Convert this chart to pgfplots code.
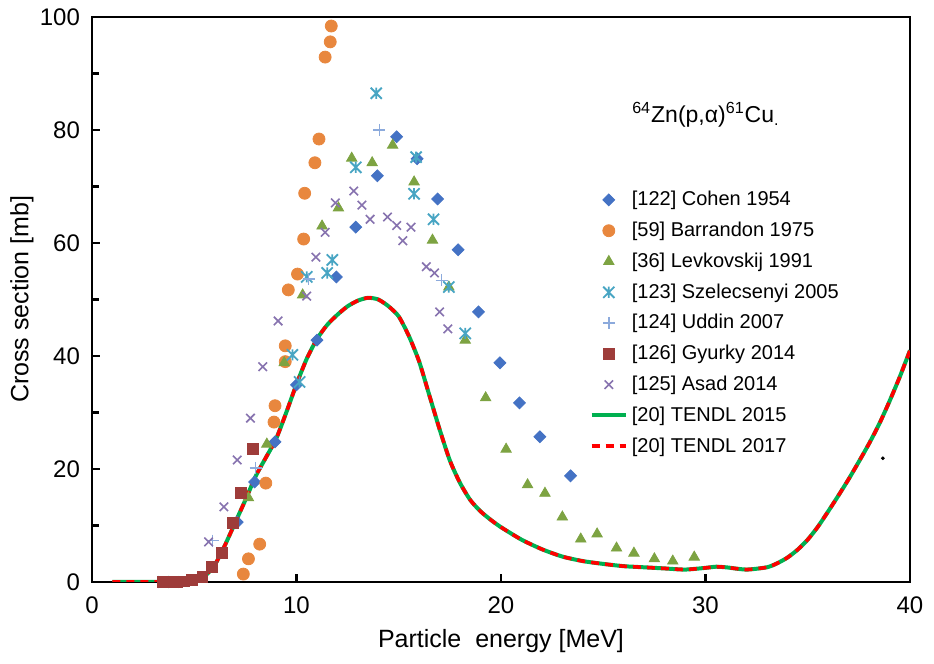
\documentclass[border=0pt]{standalone}
\usepackage{fontspec}
\setmainfont{Liberation Sans}
\usepackage{pgfplots}
\pgfplotsset{compat=1.18}
\definecolor{cohen}{RGB}{68,114,196}
\definecolor{barr}{RGB}{232,135,62}
\definecolor{levk}{RGB}{125,163,66}
\definecolor{szel}{RGB}{72,165,195}
\definecolor{uddin}{RGB}{140,170,220}
\definecolor{gyur}{RGB}{158,60,58}
\definecolor{asad}{RGB}{135,115,175}
\definecolor{tgreen}{RGB}{0,176,80}
\pgfdeclareplotmark{xstar}{%
  \pgfpathmoveto{\pgfqpoint{-\pgfplotmarksize}{-\pgfplotmarksize}}%
  \pgfpathlineto{\pgfqpoint{\pgfplotmarksize}{\pgfplotmarksize}}%
  \pgfpathmoveto{\pgfqpoint{-\pgfplotmarksize}{\pgfplotmarksize}}%
  \pgfpathlineto{\pgfqpoint{\pgfplotmarksize}{-\pgfplotmarksize}}%
  \pgfpathmoveto{\pgfqpoint{0pt}{-\pgfplotmarksize}}%
  \pgfpathlineto{\pgfqpoint{0pt}{\pgfplotmarksize}}%
  \pgfusepathqstroke}
\newcommand{\lf}{\fontsize{10}{12}\selectfont}
\begin{document}
\begin{tikzpicture}
\useasboundingbox (-46pt,-41pt) rectangle (421pt,291pt);
\begin{axis}[
  at={(0,0)}, anchor=south west,
  scale only axis, width=409pt, height=282.5pt,
  xmin=0, xmax=40, ymin=0, ymax=100,
  xtick={0,10,20,30,40}, ytick={0,20,...,100}, minor ytick={10,30,50,70,90},
  tick pos=left, tick align=inside,
  major tick length=3.8pt, minor tick length=3.5pt,
  axis line style={line width=1.1pt},
  every tick/.style={black, line width=1.1pt},
  every minor tick/.style={black, line width=1.1pt},
  tick label style={font=\fontsize{12}{14}\selectfont},
  xticklabel style={yshift=-4pt},
  yticklabel style={xshift=-2.5pt},
  /pgf/number format/assume math mode=true,
  xlabel={\fontsize{12.5}{15}\selectfont Particle\ \ energy [MeV]},
  ylabel={\fontsize{12.5}{15}\selectfont Cross section [mb]},
  every axis x label/.style={at={(axis description cs:0.5,0)}, anchor=center, yshift=-29.5pt},
  every axis y label/.style={at={(axis description cs:-0.0856,0.5)}, anchor=center, rotate=90},
  legend style={draw=none, fill=none, inner sep=0pt,
    at={(0.608,0.6995)}, anchor=north west, row sep=2.65pt},
  legend cell align=left,
]
% Cohen 1954
\addplot[only marks, mark=square*, mark size=2.1pt, color=cohen, every mark/.append style={rotate=45}]
coordinates {(7.1,10.6)(7.95,17.7)(8.95,24.8)(10.0,34.9)(11.0,42.8)(11.95,54.0)(12.9,62.8)(13.95,71.9)(14.9,78.8)(15.9,74.9)(16.9,67.8)(17.9,58.8)(18.9,47.8)(19.95,38.8)(20.9,31.7)(21.9,25.7)(23.4,18.8)};
\addlegendentry{\lf [122] Cohen 1954}
% Barrandon 1975
\addplot[only marks, mark=*, mark size=3pt, color=barr]
coordinates {(7.4,1.4)(7.65,4.1)(8.2,6.7)(8.5,17.5)(8.9,28.3)(8.95,31.2)(9.45,39)(9.45,41.8)(9.6,51.7)(10.05,54.5)(10.35,60.7)(10.4,68.8)(10.9,74.2)(11.1,78.4)(11.4,92.9)(11.65,95.6)(11.7,98.4)};
\addlegendentry{\lf [59] Barrandon 1975}
% Levkovskij 1991
\addplot[only marks, mark=triangle*, mark size=3pt, color=levk]
coordinates {(7.65,14.9)(8.55,24.4)(9.4,38.8)(10.3,50.8)(11.25,63.0)(12.05,66.2)(12.7,75.0)(13.7,74.2)(14.7,77.3)(15.75,70.8)(16.65,60.5)(17.45,52.2)(18.25,42.8)(19.25,32.6)(20.25,23.5)(21.3,17.2)(22.15,15.7)(23.0,11.5)(23.9,7.6)(24.7,8.5)(25.65,6.0)(26.5,5.1)(27.5,4.1)(28.4,3.7)(29.45,4.4)};
\addlegendentry{\lf [36] Levkovskij 1991}
% Szelecsenyi 2005
\addplot[only marks, mark=xstar, mark size=2.8pt, color=szel, line width=0.9pt]
coordinates {(3.5,0)(4.0,0)(9.8,40.2)(10.15,35.4)(10.5,54)(11.5,54.7)(11.75,57)(12.9,73.4)(13.9,86.5)(15.75,68.7)(15.85,75.2)(16.7,64.2)(17.45,52.2)(18.25,44)};
\addlegendentry{\lf [123] Szelecsenyi 2005}
% Uddin 2007
\addplot[only marks, mark=+, mark size=3pt, color=uddin, line width=0.7pt]
coordinates {(5.9,7.3)(8.0,20.2)(10.6,53.6)(14.05,80)(17.1,53.4)};
\addlegendentry{\lf [124] Uddin 2007}
% Gyurky 2014
\addplot[only marks, mark=square*, mark size=2.7pt, color=gyur]
coordinates {(3.45,0)(3.8,0)(4.15,0)(4.5,0.1)(4.9,0.3)(5.4,0.9)(5.85,2.7)(6.35,5.1)(6.9,10.4)(7.27,15.8)(7.85,23.5)};
\addlegendentry{\lf [126] Gyurky 2014}
% Asad 2014
\addplot[only marks, mark=x, mark size=3pt, color=asad, line width=0.8pt]
coordinates {(5.7,7.1)(6.45,13.3)(7.1,21.6)(7.75,29)(8.35,38.1)(9.1,46.2)(10.5,50.6)(10.95,57.5)(11.4,61.9)(11.9,67.1)(12.8,69.2)(13.2,66.7)(13.6,64.2)(14.45,64.6)(14.9,63.1)(15.2,60.4)(15.6,62.8)(16.35,55.8)(16.75,54.7)(17.0,47.8)(17.4,44.8)};
\addlegendentry{\lf [125] Asad 2014}
% TENDL 2015
\addplot[smooth, tension=0.4, color=tgreen, line width=2pt, no marks]
coordinates {(1,0)(2,0)(3,0)(4,0)(4.5,0.05)(5,0.2)(5.5,1)(6,3)(6.5,6.5)(7,10.5)(7.5,14.5)(8,18.7)(8.5,22)(9,25.3)(9.5,30)(10,35)(10.5,39.5)(11,43)(11.5,45.5)(12,47.3)(12.5,48.8)(13,49.8)(13.5,50.3)(14,50)(14.5,48.8)(15,47)(15.5,43.5)(16,39)(16.5,33)(17,27)(17.5,21.5)(18,17.5)(18.5,14.5)(19,12.5)(19.5,11)(20,9.7)(21,7.5)(22,5.8)(23,4.5)(24,3.7)(25,3.2)(26,2.8)(27,2.6)(28,2.4)(29,2.2)(30,2.5)(30.5,2.7)(31,2.6)(32,2.2)(33,2.6)(33.5,3.3)(34,4.3)(34.5,5.7)(35,7.5)(35.5,9.8)(36,12.5)(36.5,15.3)(37,18.2)(37.5,21.3)(38,24.5)(38.5,28)(39,32)(39.5,36.3)(40,41)};
\addlegendentry{\lf [20] TENDL 2015}
% TENDL 2017
\addplot[smooth, tension=0.4, color=red, line width=1.8pt, dash pattern=on 4pt off 3pt, no marks]
coordinates {(1,0)(2,0)(3,0)(4,0)(4.5,0.05)(5,0.2)(5.5,1)(6,3)(6.5,6.5)(7,10.5)(7.5,14.5)(8,18.7)(8.5,22)(9,25.3)(9.5,30)(10,35)(10.5,39.5)(11,43)(11.5,45.5)(12,47.3)(12.5,48.8)(13,49.8)(13.5,50.3)(14,50)(14.5,48.8)(15,47)(15.5,43.5)(16,39)(16.5,33)(17,27)(17.5,21.5)(18,17.5)(18.5,14.5)(19,12.5)(19.5,11)(20,9.7)(21,7.5)(22,5.8)(23,4.5)(24,3.7)(25,3.2)(26,2.8)(27,2.6)(28,2.4)(29,2.2)(30,2.5)(30.5,2.7)(31,2.6)(32,2.2)(33,2.6)(33.5,3.3)(34,4.3)(34.5,5.7)(35,7.5)(35.5,9.8)(36,12.5)(36.5,15.3)(37,18.2)(37.5,21.3)(38,24.5)(38.5,28)(39,32)(39.5,36.3)(40,41)};
\addlegendentry{\lf [20] TENDL 2017}
% stray dot
\addplot[only marks, mark=*, mark size=0.7pt, black, forget plot] coordinates {(38.67,21.9)};
\node[anchor=base west, font=\fontsize{11.5}{14}\selectfont, inner sep=0pt] at (axis cs:26.4,81.4)
  {\textsuperscript{64}Zn(p,α)\textsuperscript{61}Cu\textsubscript{.}};
\end{axis}
\end{tikzpicture}
\end{document}
